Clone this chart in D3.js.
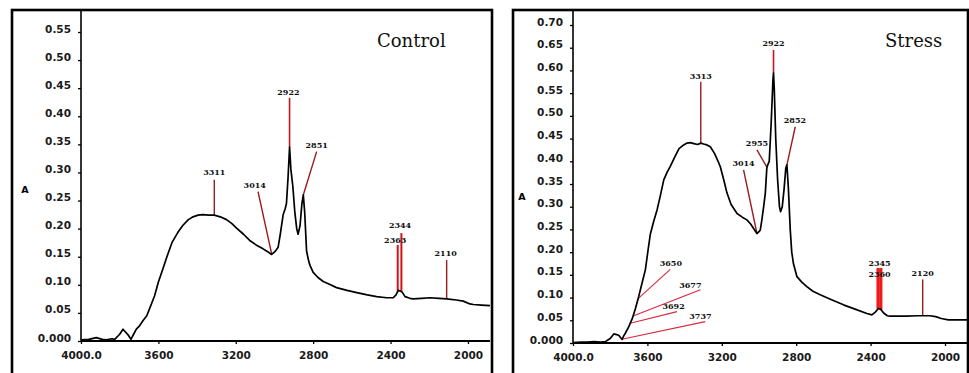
<!DOCTYPE html>
<html><head><meta charset="utf-8">
<script src="https://cdn.jsdelivr.net/npm/d3@7"></script>
<style>body{margin:0;background:#fff}svg{display:block}</style>
</head><body>
<svg id="c" width="969" height="373"></svg>
<script>
// ---------- data ----------
const xTicks = [4000, 3600, 3200, 2800, 2400, 2000];
const xTickLabels = ["4000.0", "3600", "3200", "2800", "2400", "2000"];
const yTicksControl = [0, 0.05, 0.10, 0.15, 0.20, 0.25, 0.30, 0.35, 0.40, 0.45, 0.50, 0.55];
const yLabelsControl = ["0.000", "0.05", "0.10", "0.15", "0.20", "0.25", "0.30", "0.35", "0.40", "0.45", "0.50", "0.55"];
const yTicksStress = [0, 0.05, 0.10, 0.15, 0.20, 0.25, 0.30, 0.35, 0.40, 0.45, 0.50, 0.55, 0.60, 0.65, 0.70];
const yLabelsStress = ["0.000", "0.05", "0.10", "0.15", "0.20", "0.25", "0.30", "0.35", "0.40", "0.45", "0.50", "0.55", "0.60", "0.65", "0.70"];

const controlWn = [4000,3960,3921,3890,3869,3840,3826,3800,3783,3770,3757,3742,3728,3714,3700,3680,3660,3645,3620,3600,3580,3559,3530,3500,3473,3445,3421,3395,3369,3340,3311,3280,3248,3220,3196,3160,3128,3095,3059,3035,3015,3005,2995,2981,2970,2955,2945,2938,2930,2922,2915,2905,2895,2885,2878,2868,2858,2851,2844,2834,2825,2817,2800,2775,2748,2710,2679,2625,2575,2520,2472,2420,2386,2372,2360,2350,2340,2325,2300,2283,2240,2196,2150,2110,2060,2024,1990,1972,1930,1886];
const controlAbs = [0.002,0.003,0.006,0.003,0.002,0.004,0.003,0.012,0.021,0.016,0.011,0.003,0.012,0.021,0.026,0.036,0.045,0.058,0.080,0.105,0.125,0.147,0.175,0.193,0.206,0.216,0.221,0.224,0.225,0.224,0.224,0.221,0.216,0.209,0.201,0.190,0.179,0.171,0.164,0.159,0.154,0.157,0.160,0.167,0.190,0.225,0.235,0.245,0.290,0.345,0.305,0.275,0.230,0.200,0.190,0.205,0.245,0.260,0.230,0.160,0.145,0.135,0.122,0.113,0.106,0.100,0.095,0.090,0.086,0.082,0.079,0.077,0.077,0.082,0.090,0.089,0.087,0.079,0.076,0.075,0.076,0.077,0.076,0.075,0.073,0.071,0.066,0.065,0.064,0.063];

const stressWn = [4000,3960,3920,3888,3850,3826,3800,3781,3770,3754,3745,3736,3728,3718,3700,3682,3665,3647,3630,3611,3598,3584,3566,3548,3530,3512,3495,3477,3450,3430,3405,3387,3369,3350,3330,3313,3298,3280,3262,3240,3220,3208,3190,3172,3150,3118,3090,3065,3045,3029,3011,3000,2993,2985,2975,2966,2958,2955,2945,2935,2925,2922,2918,2910,2900,2890,2884,2875,2865,2856,2850,2842,2832,2824,2815,2796,2770,2743,2710,2671,2610,2546,2480,2420,2393,2375,2358,2345,2330,2310,2295,2250,2206,2150,2120,2081,2050,2020,1982,1930,1871];
const stressAbs = [0.001,0.002,0.002,0.003,0.002,0.003,0.010,0.020,0.019,0.017,0.012,0.008,0.015,0.022,0.036,0.053,0.075,0.102,0.130,0.161,0.200,0.240,0.268,0.293,0.325,0.359,0.375,0.389,0.412,0.428,0.436,0.440,0.441,0.439,0.437,0.440,0.438,0.436,0.432,0.418,0.400,0.388,0.360,0.330,0.305,0.285,0.277,0.271,0.262,0.252,0.241,0.245,0.249,0.270,0.300,0.330,0.385,0.390,0.400,0.480,0.580,0.594,0.560,0.450,0.360,0.300,0.289,0.300,0.340,0.385,0.392,0.340,0.249,0.200,0.175,0.146,0.134,0.124,0.114,0.106,0.095,0.084,0.074,0.065,0.062,0.068,0.076,0.074,0.066,0.060,0.059,0.059,0.059,0.060,0.060,0.060,0.058,0.054,0.051,0.051,0.051];

// peak annotations: anchor wavenumber, line-top (wn, A), label (wn, A baseline), kind
const controlPeakLabels = ["3311", "3014", "2922", "2851", "2344", "2363", "2110"];
const controlPeakWn     = [3311, 3014, 2922, 2851, 2344, 2363, 2110];
const controlTopWn      = [3311, 3085, 2922, 2782, 2344, 2363, 2110];
const controlTopA       = [0.287, 0.266, 0.433, 0.337, 0.192, 0.171, 0.144];
const controlLabelWn    = [3311, 3102, 2928, 2782, 2351, 2376, 2115];
const controlLabelA     = [0.296, 0.272, 0.438, 0.344, 0.201, 0.174, 0.151];
const controlPeakKind   = ["d", "d", "r", "d", "b", "b", "d"];

const stressPeakLabels = ["3313", "3014", "2955", "2922", "2852", "3650", "3677", "3692", "3737", "2345", "2360", "2120"];
const stressPeakWn     = [3313, 3011, 2957, 2922, 2850, 3650, 3677, 3692, 3737, 2345, 2360, 2120];
const stressTopWn      = [3313, 3083, 3011, 2922, 2805, 3477, 3315, 3441, 3289, 2345, 2360, 2120];
const stressTopA       = [0.575, 0.381, 0.425, 0.645, 0.476, 0.162, 0.117, 0.069, 0.047, 0.165, 0.165, 0.140];
const stressLabelWn    = [3313, 3083, 3011, 2922, 2807, 3474, 3369, 3459, 3315, 2352, 2352, 2120];
const stressLabelA     = [0.581, 0.389, 0.434, 0.653, 0.484, 0.170, 0.121, 0.075, 0.053, 0.170, 0.145, 0.147];
const stressPeakKind   = ["d", "d", "d", "r", "d", "p", "p", "p", "p", "B", "B", "d"];

// ---------- drawing ----------
const svg = d3.select("#c");
const colors = {d: "#9b1b1e", r: "#c8141c", b: "#d01418", B: "#ee1a1a", p: "#d8283f"};
const widths = {d: 1.4, r: 1.6, b: 2.0, B: 3.2, p: 1.1};
const tickFont = "'DejaVu Sans', Verdana, sans-serif";

function panel(cfg) {
  const g = svg.append("g");
  // frame
  g.append("rect").attr("x", cfg.frame[0]).attr("y", cfg.frame[1])
    .attr("width", cfg.frame[2] - cfg.frame[0]).attr("height", 400)
    .attr("fill", "none").attr("stroke", "#000").attr("stroke-width", 2.6);

  const x = d3.scaleLinear().domain(cfg.xDomain).range(cfg.xRange);
  const y = d3.scaleLinear().domain(cfg.yDomain).range(cfg.yRange);

  // y axis
  const ya = g.append("g").attr("transform", `translate(${cfg.xRange[0]},0)`)
    .call(d3.axisLeft(y).tickValues(cfg.yTicks).tickFormat((d, i) => cfg.yLabels[i]).tickSize(3).tickPadding(7));
  ya.select(".domain").remove();
  ya.selectAll("text").attr("dy", "0em")
    .style("font-family", tickFont).style("font-weight", "bold")
    .style("font-size", "10.5px").attr("fill", "#1a1a1a");
  ya.selectAll("line").attr("stroke-width", 1.3);
  g.append("line").attr("x1", cfg.xRange[0]).attr("x2", cfg.xRange[0])
    .attr("y1", cfg.frame[1]).attr("y2", cfg.yRange[0]).attr("stroke", "#000").attr("stroke-width", 1.6);

  // x axis
  const xa = g.append("g").attr("transform", `translate(0,${cfg.yRange[0]})`)
    .call(d3.axisBottom(x).tickValues(xTicks).tickFormat((d, i) => xTickLabels[i]).tickSize(3).tickPadding(8));
  xa.select(".domain").remove();
  xa.selectAll("text")
    .style("font-family", tickFont).style("font-weight", "bold")
    .style("font-size", "10.5px").attr("fill", "#1a1a1a");
  xa.selectAll("line").attr("stroke-width", 1.3);
  g.append("line").attr("x1", cfg.xRange[0]).attr("x2", cfg.xRange[1])
    .attr("y1", cfg.yRange[0]).attr("y2", cfg.yRange[0]).attr("stroke", "#000").attr("stroke-width", 1.8);

  // axis title
  g.append("text").attr("x", cfg.aPos[0]).attr("y", cfg.aPos[1]).text("A")
    .style("font-family", tickFont).style("font-weight", "bold")
    .style("font-size", "9.5px").attr("text-anchor", "middle");

  // curve
  const pts = cfg.wn.map((w, i) => [w, cfg.abs[i]]);
  const interp = w => {
    for (let i = 0; i < pts.length - 1; i++) {
      const [w0, a0] = pts[i], [w1, a1] = pts[i + 1];
      if (w <= w0 && w >= w1) return a0 + (a1 - a0) * (w0 - w) / (w0 - w1);
    }
    return 0;
  };

  // peak lines
  cfg.peakWn.forEach((w, i) => {
    const k = cfg.kind[i];
    g.append("line")
      .attr("x1", x(w)).attr("y1", y(interp(w)))
      .attr("x2", x(cfg.topWn[i])).attr("y2", y(cfg.topA[i]))
      .attr("stroke", colors[k]).attr("stroke-width", widths[k]);
  });

  g.append("path").datum(pts)
    .attr("d", d3.line().x(d => x(d[0])).y(d => y(d[1])))
    .attr("fill", "none").attr("stroke", "#000").attr("stroke-width", 1.7)
    .attr("stroke-linejoin", "round");

  cfg.peakWn.forEach((w, i) => {
    g.append("text").attr("x", x(cfg.labelWn[i])).attr("y", y(cfg.labelA[i]))
      .attr("text-anchor", "middle").text(cfg.peakLabels[i])
      .style("font-family", "'DejaVu Serif', serif").style("font-weight", "bold")
      .style("font-size", "8px").attr("fill", "#111");
  });

  // title
  g.append("text").attr("x", cfg.title[1]).attr("y", cfg.title[2]).text(cfg.title[0])
    .style("font-family", "'DejaVu Serif', serif").style("font-size", "18px").attr("fill", "#111");
}

panel({
  frame: [12, 10, 492], xDomain: [4000, 1886], xRange: [81, 490],
  yDomain: [0, 0.55], yRange: [341, 32], yTicks: yTicksControl, yLabels: yLabelsControl,
  aPos: [25, 193], wn: controlWn, abs: controlAbs,
  peakLabels: controlPeakLabels, peakWn: controlPeakWn, topWn: controlTopWn, topA: controlTopA,
  labelWn: controlLabelWn, labelA: controlLabelA, kind: controlPeakKind,
  title: ["Control", 377, 47]
});
panel({
  frame: [513, 10, 968], xDomain: [4000, 1871], xRange: [573, 969],
  yDomain: [0, 0.70], yRange: [343, 25], yTicks: yTicksStress, yLabels: yLabelsStress,
  aPos: [522, 200], wn: stressWn, abs: stressAbs,
  peakLabels: stressPeakLabels, peakWn: stressPeakWn, topWn: stressTopWn, topA: stressTopA,
  labelWn: stressLabelWn, labelA: stressLabelA, kind: stressPeakKind,
  title: ["Stress", 885, 47]
});
</script>
</body></html>
